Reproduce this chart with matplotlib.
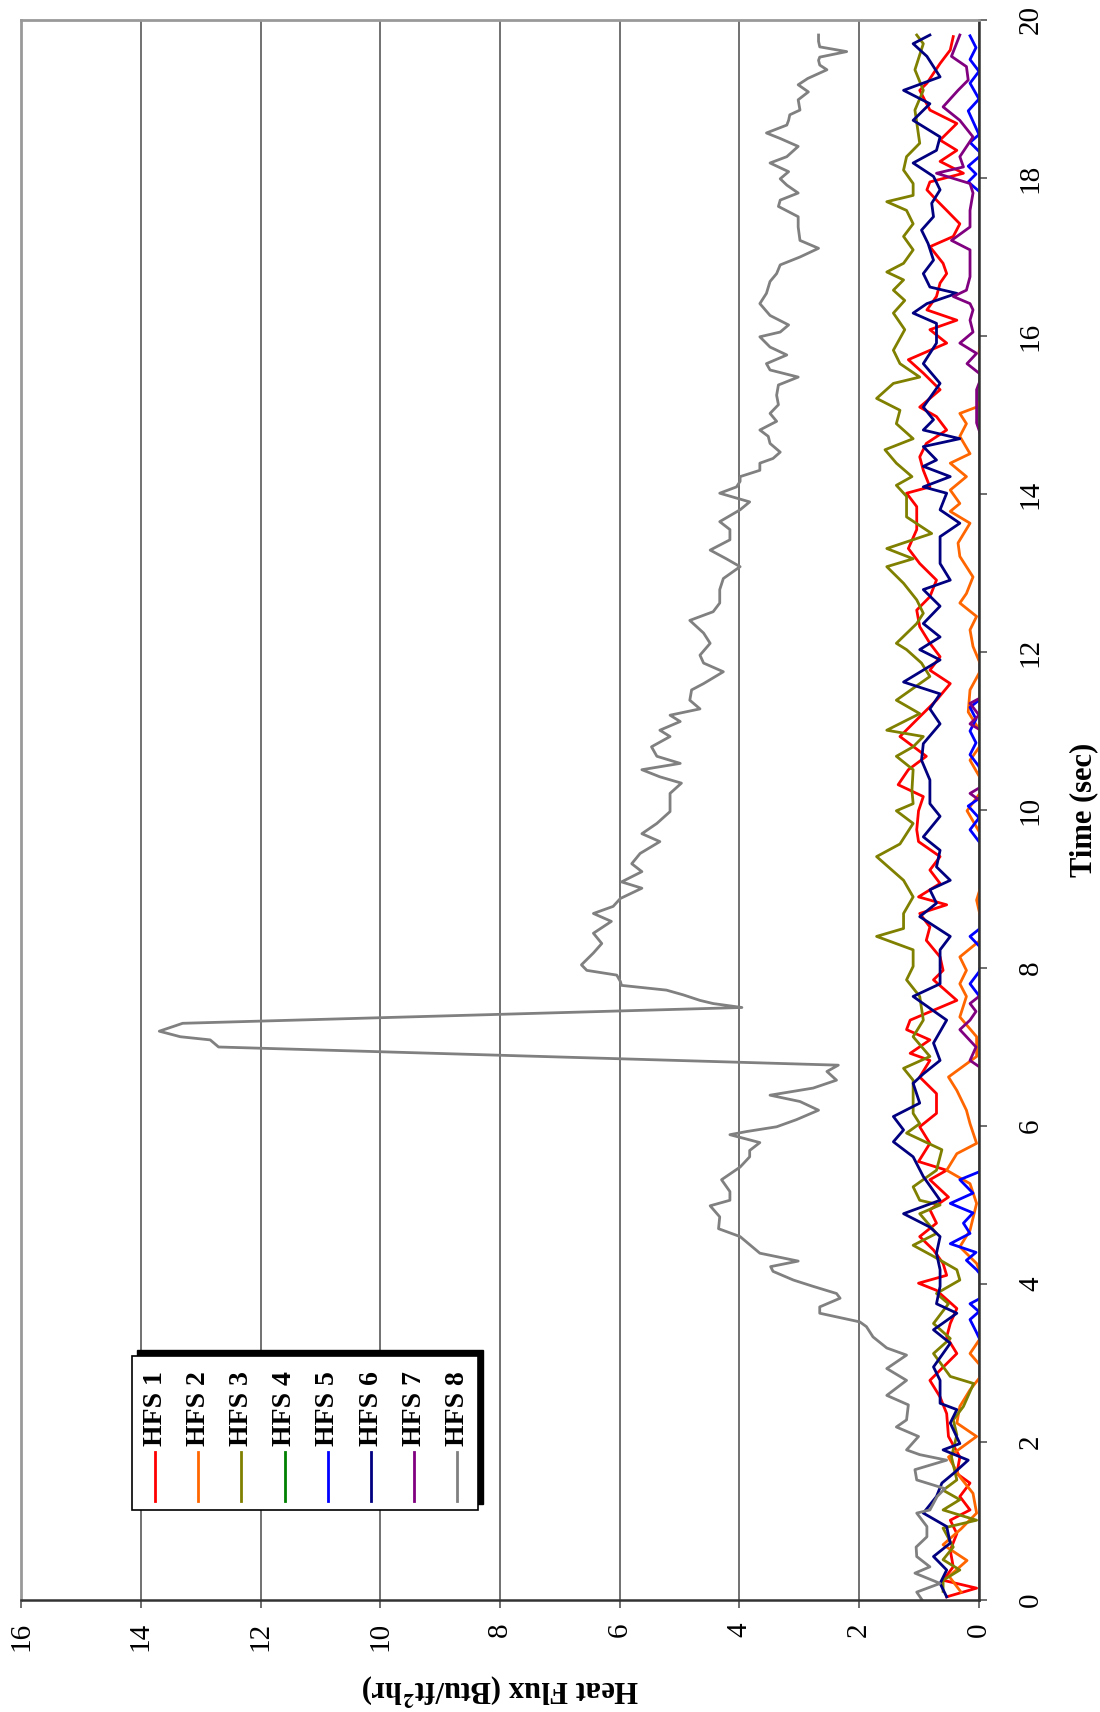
import matplotlib
matplotlib.use("Agg")
import matplotlib.pyplot as plt
from matplotlib.patches import Rectangle
from matplotlib.lines import Line2D

plt.rcParams['font.family'] = ['Liberation Serif', 'DejaVu Serif']
plt.rcParams['mathtext.fontset'] = 'stix'

# heat flux sensors, time (sec) and heat flux (Btu/ft2hr)
labels = ['HFS 1', 'HFS 2', 'HFS 3', 'HFS 4', 'HFS 5', 'HFS 6', 'HFS 7', 'HFS 8']
colors = ['#FF0000', '#FF6600', '#808000', '#008000', '#0000FF', '#000080', '#800080', '#808080']

hfs1_t = [0.04, 0.15, 0.25, 0.42, 0.63, 0.84, 1.01, 1.14, 1.31, 1.48, 1.60, 1.81, 2.07, 2.36, 2.57, 2.78,
          3.12, 3.33, 3.50, 3.69, 3.92, 4.01, 4.11, 4.26, 4.43, 4.60, 4.77, 4.94, 5.10, 5.32, 5.44, 5.55,
          5.78, 5.99, 6.16, 6.41, 6.62, 6.83, 6.92, 7.09, 7.22, 7.34, 7.59, 7.85, 7.97, 8.14, 8.35, 8.52,
          8.69, 8.80, 8.90, 9.07, 9.24, 9.41, 9.60, 9.75, 9.99, 10.17, 10.32, 10.51, 10.68, 10.93, 11.18,
          11.39, 11.60, 11.77, 11.94, 12.11, 12.32, 12.53, 12.70, 12.91, 13.12, 13.31, 13.55, 13.84, 14.01,
          14.09, 14.30, 14.47, 14.64, 14.81, 14.98, 15.10, 15.32, 15.53, 15.70, 15.91, 16.08, 16.20, 16.33,
          16.50, 16.67, 16.79, 16.92, 17.13, 17.26, 17.42, 17.59, 17.72, 17.85, 17.95, 18.06, 18.21, 18.35,
          18.48, 18.69, 18.86, 19.11, 19.20, 19.45, 19.62, 19.79]
hfs1 = [0.54, 0.04, 0.60, 0.43, 0.48, 0.37, 0.48, 0.15, 0.32, 0.15, 0.37, 0.32, 0.51, 0.54, 0.65, 0.82,
        0.37, 0.54, 0.48, 0.37, 0.71, 1.01, 0.54, 0.60, 0.76, 0.99, 0.71, 0.82, 0.51, 0.82, 0.54, 1.01,
        0.82, 0.99, 0.71, 0.71, 0.99, 0.82, 1.15, 0.82, 1.21, 1.15, 0.37, 0.76, 0.60, 0.65, 0.88, 0.82,
        0.99, 0.54, 1.01, 0.65, 0.82, 0.65, 1.01, 1.04, 1.01, 0.93, 1.35, 1.18, 0.88, 1.32, 0.99,
        0.71, 0.48, 0.82, 0.65, 0.82, 0.99, 1.04, 0.82, 0.71, 0.99, 1.18, 1.04, 1.04, 1.21,
        0.82, 0.93, 0.99, 0.88, 0.54, 0.71, 0.99, 0.65, 0.93, 1.18, 0.54, 0.82, 0.37, 0.87,
        0.71, 0.65, 0.54, 0.60, 0.82, 0.43, 0.32, 0.54, 0.71, 0.87, 0.82, 0.26, 0.65, 0.37,
        0.65, 0.37, 0.82, 0.99, 0.87, 0.65, 0.48, 0.43]

hfs2_t = [0.1, 0.3, 0.5, 0.7, 0.9, 1.10, 1.35, 1.56, 1.81, 2.07, 2.24, 2.45, 2.66, 2.9, 3.12, 3.4, 3.7, 4.0,
          4.26, 4.47, 4.68, 5.02, 5.27, 5.44, 5.65, 5.78, 6.03, 6.20, 6.45, 6.62, 6.88, 7.13, 7.38, 7.64,
          7.80, 7.97, 8.14, 8.4, 8.86, 9.2, 9.6, 9.99, 10.3, 10.63, 10.9, 11.24, 11.52, 11.8, 12.07, 12.28,
          12.45, 12.62, 12.74, 12.95, 13.21, 13.38, 13.63, 13.78, 13.88, 14.05, 14.22, 14.39, 14.51, 14.73,
          14.89, 15.02, 15.10, 15.4, 15.8, 16.5, 17.5, 18.5, 19.8]
hfs2 = [0.30, 0.50, 0.20, 0.60, 0.30, 0.04, 0.10, 0.32, 0.51, 0.04, 0.37, 0.32, 0.15, -0.1, 0.15, -0.1, -0.1, -0.1,
        0.04, 0.32, 0.15, 0.04, 0.15, 0.54, 0.37, 0.04, 0.15, 0.21, 0.37, 0.51, 0.04, 0.04, 0.32, 0.21,
        0.32, 0.21, 0.32, -0.1, 0.04, -0.1, -0.1, 0.20, -0.1, 0.15, -0.1, 0.18, 0.15, -0.05, 0.10, 0.15,
        0.04, 0.32, 0.21, 0.10, 0.32, 0.35, 0.15, 0.48, 0.32, 0.48, 0.21, 0.48, 0.15, 0.32,
        0.21, 0.32, 0.04, -0.2, 0.0, -0.2, -0.2, -0.2, -0.2]

hfs3_t = [0.11, 0.25, 0.38, 0.51, 0.67, 0.91, 1.01, 1.14, 1.27, 1.39, 1.52, 1.81, 2.09, 2.28, 2.45, 2.74,
          2.83, 3.12, 3.31, 3.50, 3.75, 3.88, 4.05, 4.18, 4.35, 4.49, 4.64, 4.89, 5.00, 5.06, 5.23, 5.44,
          5.70, 5.91, 6.03, 6.16, 6.37, 6.58, 6.73, 6.88, 7.13, 7.34, 7.64, 7.85, 8.02, 8.23, 8.40, 8.50,
          8.69, 8.90, 9.11, 9.41, 9.57, 9.83, 9.99, 10.08, 10.25, 10.51, 10.68, 10.80, 10.93, 11.01, 11.22,
          11.39, 11.69, 11.86, 12.03, 12.11, 12.36, 12.49, 12.66, 12.87, 13.08, 13.18, 13.31, 13.50, 13.71,
          13.97, 14.11, 14.22, 14.39, 14.56, 14.70, 14.89, 15.06, 15.21, 15.40, 15.48, 15.65, 15.82, 16.08,
          16.29, 16.45, 16.58, 16.71, 16.81, 16.92, 17.09, 17.26, 17.42, 17.59, 17.70, 17.78, 17.93, 18.10,
          18.27, 18.44, 18.86, 19.11, 19.37, 19.70, 19.81]
hfs3 = [0.60, 0.60, 0.32, 0.60, 0.43, 0.60, 0.04, 0.60, 0.32, 0.60, 0.37, 0.46, 0.37, 0.43, 0.26, 0.09,
        0.48, 0.76, 0.48, 0.76, 0.51, 0.71, 0.32, 0.37, 0.76, 1.10, 0.71, 0.99, 0.65, 0.99, 1.10, 0.71,
        0.62, 1.21, 0.99, 1.10, 1.10, 1.10, 1.26, 0.82, 1.10, 0.93, 0.99, 1.21, 1.10, 1.10, 1.71, 1.26,
        1.26, 1.10, 1.26, 1.71, 1.32, 1.10, 1.38, 1.10, 1.12, 1.10, 1.38, 1.10, 0.93, 1.54, 0.99,
        1.38, 0.82, 0.96, 1.21, 1.38, 1.04, 0.93, 1.04, 1.26, 1.54, 1.10, 1.54, 0.79, 1.21,
        1.21, 1.38, 1.12, 1.38, 1.57, 1.10, 1.38, 1.32, 1.71, 1.43, 0.99, 1.32, 1.43, 1.24,
        1.43, 1.24, 1.43, 1.26, 1.54, 1.26, 1.10, 1.26, 1.10, 1.21, 1.54, 1.10, 1.10, 1.26,
        1.21, 0.99, 1.07, 0.93, 1.07, 0.93, 1.04]

# HFS 4 is listed in the legend but has no visible trace
hfs4_t = []
hfs4 = []

hfs5_t = [0.0, 0.5, 1.0, 1.5, 2.0, 2.5, 3.0, 3.40, 3.55, 3.65, 3.75, 3.85, 4.05, 4.18, 4.30, 4.40, 4.51,
          4.64, 4.77, 4.90, 5.02, 5.15, 5.32, 5.45, 6.0, 6.5, 7.0, 7.6, 7.80, 7.95, 8.2, 8.40, 8.55, 9.0,
          9.5, 9.75, 9.90, 10.05, 10.2, 10.55, 10.70, 10.85, 11.0, 11.15, 11.30, 11.45, 12.0, 13.0, 14.0,
          15.0, 16.0, 17.0, 17.8, 17.95, 18.05, 18.15, 18.3, 18.45, 18.55, 18.85, 19.0, 19.2, 19.35, 19.5,
          19.65, 19.8]
hfs5 = [-0.2, -0.2, -0.1, -0.2, -0.2, -0.1, -0.2, 0.05, 0.15, 0.0, 0.15, -0.1, -0.1, 0.04, 0.21, 0.05, 0.48,
        0.15, 0.26, 0.10, 0.48, 0.10, 0.32, -0.1, -0.2, -0.2, -0.2, -0.05, 0.15, 0.0, -0.1, 0.15, -0.1, -0.2,
        -0.1, 0.15, 0.0, 0.18, -0.1, 0.0, 0.15, 0.05, 0.15, 0.05, 0.15, -0.1, -0.2, -0.2, -0.2,
        -0.2, -0.2, -0.2, -0.05, 0.18, 0.05, 0.18, -0.05, 0.15, 0.0, 0.18, 0.0, 0.15, 0.0, 0.15,
        0.05, 0.15]

hfs6_t = [0.04, 0.21, 0.38, 0.55, 0.72, 0.93, 1.10, 1.31, 1.48, 1.60, 1.77, 1.90, 1.98, 2.24, 2.41, 2.49,
          2.78, 2.95, 3.25, 3.42, 3.63, 3.75, 3.97, 4.18, 4.39, 4.60, 4.72, 4.89, 5.06, 5.36, 5.61, 5.80,
          5.95, 6.12, 6.29, 6.54, 6.66, 6.83, 7.05, 7.34, 7.64, 7.80, 7.97, 8.23, 8.40, 8.65, 8.82, 8.99,
          9.11, 9.28, 9.49, 9.66, 9.92, 10.08, 10.38, 10.63, 10.84, 11.09, 11.28, 11.47, 11.62, 11.90, 12.03,
          12.19, 12.36, 12.58, 12.79, 12.91, 13.12, 13.46, 13.63, 13.80, 14.01, 14.09, 14.22, 14.35, 14.43,
          14.60, 14.70, 14.81, 14.94, 15.10, 15.40, 15.65, 15.91, 16.08, 16.16, 16.29, 16.41, 16.54, 16.62,
          16.79, 16.96, 17.17, 17.34, 17.51, 17.68, 17.85, 18.02, 18.19, 18.35, 18.52, 18.73, 18.94, 19.11,
          19.28, 19.54, 19.70, 19.81]
hfs6 = [0.54, 0.65, 0.54, 0.76, 0.48, 0.54, 0.93, 0.71, 0.62, 0.43, 0.18, 0.60, 0.32, 0.48, 0.37, 0.65,
        0.65, 0.76, 0.48, 0.76, 0.37, 0.71, 0.65, 0.65, 0.71, 0.65, 0.82, 1.26, 0.65, 0.93, 1.10, 1.43,
        1.26, 1.43, 0.99, 1.10, 0.93, 0.65, 0.76, 0.54, 1.10, 0.65, 0.65, 0.65, 0.48, 0.99, 0.71, 0.82,
        0.48, 0.71, 0.65, 0.93, 0.65, 0.82, 0.82, 0.96, 0.93, 0.65, 0.82, 0.65, 1.26, 0.65, 0.99,
        0.65, 0.93, 0.65, 0.93, 0.48, 0.65, 0.65, 0.32, 0.65, 0.54, 0.93, 0.48, 0.93, 0.71,
        0.93, 0.32, 0.93, 0.76, 0.93, 0.65, 0.93, 0.71, 0.71, 0.71, 1.10, 0.87, 0.37, 0.82,
        0.93, 0.76, 0.85, 0.96, 0.76, 0.79, 0.65, 0.76, 1.10, 0.71, 0.65, 1.10, 0.82, 1.26,
        0.65, 0.87, 1.10, 0.82]

hfs7_t = [0.0, 3.0, 6.7, 6.83, 7.0, 7.22, 7.34, 7.45, 7.55, 7.7, 10.1, 10.21, 10.3, 11.0, 11.09, 11.2,
          11.35, 11.45, 14.7, 14.9, 15.1, 15.32, 15.5, 15.65, 15.78, 15.91, 16.05, 16.20, 16.33, 16.41,
          16.50, 16.58, 16.75, 17.09, 17.21, 17.38, 17.59, 17.81, 17.93, 18.06, 18.14, 18.27, 18.52,
          18.73, 18.90, 19.11, 19.24, 19.41, 19.54, 19.81]
hfs7 = [-0.2, -0.2, -0.1, 0.15, 0.05, 0.32, 0.15, 0.05, 0.15, -0.1, -0.05, 0.15, -0.05, -0.05, 0.15, 0.0,
        0.15, -0.1, -0.05, 0.04, 0.04, 0.04, -0.05, 0.20, 0.04, 0.32, 0.10, 0.15, 0.10, 0.15,
        0.43, 0.21, 0.15, 0.15, 0.46, 0.15, 0.15, 0.10, 0.15, 0.71, 0.26, 0.32, 0.10,
        0.32, 0.60, 0.35, 0.18, 0.21, 0.46, 0.32]

hfs8_t = [0.00, 0.10, 0.21, 0.34, 0.42, 0.55, 0.67, 0.80, 0.93, 1.10, 1.14, 1.31, 1.41, 1.52, 1.65, 1.77,
          1.84, 1.90, 2.07, 2.19, 2.28, 2.47, 2.59, 2.78, 2.93, 3.10, 3.19, 3.33, 3.46, 3.52, 3.63, 3.71,
          3.82, 3.88, 3.97, 4.05, 4.16, 4.22, 4.29, 4.39, 4.60, 4.70, 4.85, 4.99, 5.06, 5.17, 5.32, 5.48,
          5.61, 5.69, 5.79, 5.89, 5.93, 5.99, 6.08, 6.20, 6.31, 6.39, 6.48, 6.58, 6.69, 6.77, 7.00, 7.09,
          7.13, 7.20, 7.30, 7.50, 7.55, 7.59, 7.66, 7.72, 7.78, 7.83, 7.91, 7.97, 8.04, 8.19, 8.31, 8.44,
          8.59, 8.69, 8.78, 8.88, 9.01, 9.09, 9.22, 9.32, 9.45, 9.60, 9.70, 9.83, 9.98, 10.08, 10.21, 10.34,
          10.42, 10.51, 10.59, 10.68, 10.80, 10.93, 11.01, 11.12, 11.20, 11.28, 11.39, 11.52, 11.60, 11.75,
          11.86, 11.96, 12.11, 12.24, 12.40, 12.51, 12.62, 12.79, 12.93, 13.08, 13.18, 13.29, 13.42, 13.55,
          13.65, 13.80, 13.90, 14.01, 14.09, 14.16, 14.22, 14.30, 14.39, 14.45, 14.53, 14.64, 14.73, 14.81,
          14.92, 15.02, 15.13, 15.25, 15.38, 15.48, 15.57, 15.65, 15.76, 15.86, 15.99, 16.05, 16.14, 16.26,
          16.41, 16.54, 16.69, 16.79, 16.90, 17.00, 17.11, 17.21, 17.38, 17.51, 17.64, 17.72, 17.81, 17.91,
          17.99, 18.08, 18.19, 18.27, 18.40, 18.50, 18.57, 18.67, 18.73, 18.80, 18.86, 18.99, 19.09, 19.18,
          19.26, 19.37, 19.43, 19.49, 19.53, 19.60, 19.66, 19.73, 19.81]
hfs8 = [0.95, 1.04, 0.65, 1.07, 0.82, 1.04, 1.05, 0.87, 0.87, 1.04, 0.82, 0.70, 0.57, 1.04, 1.07, 0.54,
        0.99, 1.21, 1.01, 1.38, 1.21, 1.18, 1.54, 1.21, 1.54, 1.21, 1.54, 1.77, 1.88, 1.99, 2.66, 2.66,
        2.32, 2.38, 2.77, 3.10, 3.44, 3.48, 3.02, 3.66, 3.99, 4.35, 4.33, 4.49, 4.16, 4.16, 4.30, 3.99,
        3.83, 3.83, 3.66, 4.16, 3.88, 3.38, 3.05, 2.68, 2.99, 3.49, 2.77, 2.38, 2.54, 2.35, 12.70, 12.84,
        13.34, 13.69, 13.30, 3.96, 4.44, 4.66, 4.94, 5.22, 5.97, 5.99, 6.05, 6.55, 6.64, 6.44, 6.30, 6.44,
        6.14, 6.44, 6.11, 5.99, 5.63, 5.97, 5.63, 5.80, 5.66, 5.33, 5.63, 5.38, 5.16, 5.16, 5.16, 4.97,
        5.33, 5.63, 4.99, 5.38, 5.47, 5.16, 5.33, 4.99, 5.16, 4.66, 4.83, 4.80, 4.60, 4.27,
        4.60, 4.66, 4.49, 4.60, 4.83, 4.44, 4.33, 4.33, 4.27, 3.99, 4.22, 4.49, 4.16, 4.16,
        4.33, 3.99, 3.83, 4.33, 4.05, 3.99, 3.99, 3.66, 3.66, 3.44, 3.32, 3.49, 3.52, 3.66,
        3.38, 3.49, 3.35, 3.38, 3.35, 3.02, 3.49, 3.55, 3.21, 3.49, 3.66, 3.32, 3.18, 3.49,
        3.66, 3.55, 3.49, 3.38, 3.32, 2.99, 2.68, 2.99, 3.02, 3.02, 3.35, 3.32, 3.02, 3.21,
        3.32, 3.18, 3.49, 3.21, 3.02, 3.32, 3.55, 3.21, 3.18, 3.16, 2.99, 3.02, 2.85, 3.02,
        2.86, 2.54, 2.66, 2.68, 2.66, 2.21, 2.66, 2.68, 2.68]

series_t = [hfs1_t, hfs2_t, hfs3_t, hfs4_t, hfs5_t, hfs6_t, hfs7_t, hfs8_t]
series_v = [hfs1, hfs2, hfs3, hfs4, hfs5, hfs6, hfs7, hfs8]

W, H = 1100, 1712
fig = plt.figure(figsize=(W / 100, H / 100), dpi=100)

# plot area in pixels (the chart is printed turned on its side)
left, right, top, bottom = 21, 979, 20, 1600
ax = fig.add_axes([left / W, 1 - bottom / H, (right - left) / W, (bottom - top) / H])

for t, v, c in zip(series_t, series_v, colors):
    ax.plot(v, t, color=c, lw=2.0, solid_joinstyle='round')

ax.set_xlim(16, 0)
ax.set_ylim(0, 20)
ax.set_xticks(range(0, 17, 2))
ax.set_yticks(range(0, 21, 2))
ax.grid(axis='x', color='#666666', lw=1.3)
ax.set_axisbelow(True)

ax.yaxis.tick_right()
ax.yaxis.set_label_position('right')
ax.tick_params(axis='both', labelsize=21, direction='out', length=6, width=1.2, color='#555555')
ax.tick_params(axis='x', labelrotation=90, pad=10)
ax.tick_params(axis='y', labelrotation=90, pad=22)
for lab in ax.get_yticklabels():
    lab.set_va('center')

for side in ['top', 'left']:
    ax.spines[side].set_color('#999999')
    ax.spines[side].set_linewidth(2)
for side in ['right', 'bottom']:
    ax.spines[side].set_color('#333333')
    ax.spines[side].set_linewidth(1.8)

ax.set_xlabel(r'Heat Flux (Btu/ft$^{\mathbf{2}}$hr)', fontsize=22, fontweight='bold',
              rotation=180, labelpad=14)
ax.set_ylabel('Time (sec)', fontsize=22, fontweight='bold', rotation=90, labelpad=18)

# legend, drawn by hand since its entries are turned on their side
def fx(x):
    return x / W

def fy(y):
    return 1 - y / H

bx0, bx1, by0, by1 = 132, 478, 1356, 1510
fig.add_artist(Rectangle((fx(bx0 + 5), fy(by1 + 0) + 6 / H), (bx1 - bx0) / W, (by1 - by0) / H,
                         transform=fig.transFigure, facecolor='black', edgecolor='black'))
fig.add_artist(Rectangle((fx(bx0), fy(by1)), (bx1 - bx0) / W, (by1 - by0) / H,
                         transform=fig.transFigure, facecolor='white', edgecolor='black', lw=1.2))
for i, (lab, c) in enumerate(zip(labels, colors)):
    x = 155 + i * 43.2
    fig.add_artist(Line2D([fx(x), fx(x)], [fy(1452), fy(1501)], transform=fig.transFigure,
                          color=c, lw=2.0))
    fig.text(fx(x), fy(1446), lab, rotation=90, ha='center', va='bottom',
             fontsize=20, fontweight='bold')

fig.savefig('out.png', dpi=100)
